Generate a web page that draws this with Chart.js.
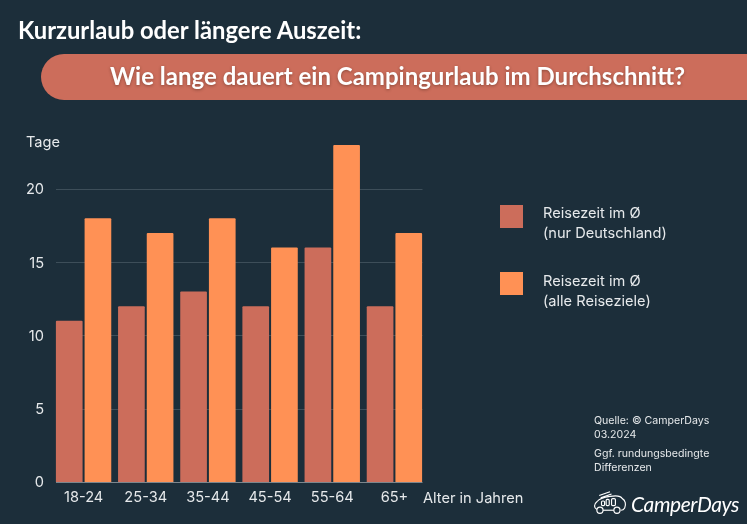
<!DOCTYPE html>
<html lang="de">
<head>
<meta charset="utf-8">
<title>Campingurlaub</title>
<script src="https://cdn.jsdelivr.net/npm/chart.js@4/dist/chart.umd.min.js"></script>
<style>
  html, body { margin: 0; padding: 0; background: #1c2e3a; }
  #page { position: relative; width: 747px; height: 524px; overflow: hidden; background: #1c2e3a; font-family: Inter, sans-serif; color: #e6e9eb; }
  #page canvas { position: absolute; left: 0; top: 0; }
  .txt { position: absolute; white-space: nowrap; }
  #kicker { left: 18px; top: 16px; font: 700 23.8px/28px Lato, sans-serif; color: #fff; }
  #pill { position: absolute; left: 41px; top: 54px; width: 706px; height: 46px; background: #cc6d5b; border-radius: 23px 0 0 23px; }
  #headline { left: 110px; top: 60px; font: 700 24px/32px Lato, sans-serif; color: #fff; text-shadow: 0 1px 3px rgba(60,30,20,.45); }
  .swatch { position: absolute; left: 500px; width: 23px; height: 23px; }
  .leg { left: 543px; font-size: 14.6px; line-height: 20px; }
  .note { left: 594px; font-size: 10.6px; line-height: 13.5px; }
</style>
</head>
<body>
<div id="page">
  <canvas id="chart" width="747" height="524"></canvas>
  <div class="txt" id="kicker">Kurzurlaub oder längere Auszeit:</div>
  <div id="pill"></div>
  <div class="txt" id="headline">Wie lange dauert ein Campingurlaub im Durchschnitt?</div>
  <div class="txt" style="left:26px;top:133px;font-size:14.6px;line-height:18px">Tage</div>
  <div class="txt" style="left:423px;top:489px;font-size:14.6px;line-height:18px">Alter in Jahren</div>
  <div class="swatch" style="top:205px;background:#cc6d5b"></div>
  <div class="txt leg" style="top:203px">Reisezeit im Ø<br>(nur Deutschland)</div>
  <div class="swatch" style="top:272px;background:#ff9155"></div>
  <div class="txt leg" style="top:271px">Reisezeit im Ø<br>(alle Reiseziele)</div>
  <div class="txt note" style="top:414px">Quelle: © CamperDays<br>03.2024</div>
  <div class="txt note" style="top:447px">Ggf. rundungsbedingte<br>Differenzen</div>
  <svg style="position:absolute;left:593px;top:488px" width="34" height="29" viewBox="0 0 44 30" fill="none" stroke="#fff" stroke-width="1.5">
    <path d="M5 24 C1 22 1 17 5 14 C8 10 14 8 22 7 C28 6 36 6 38 10 C42 12 43 18 41 22 C40 24 38 25 36 25"/>
    <path d="M13 25 H27"/>
    <circle cx="9" cy="25" r="4"/>
    <circle cx="31" cy="25" r="4"/>
    <path d="M8 6 L22 1 M10 9 L24 4"/>
    <rect x="11" y="13" width="4" height="6" rx="1.5"/>
    <rect x="17" y="11" width="4" height="8" rx="1.5"/>
    <rect x="24" y="10" width="5" height="9" rx="1.5"/>
  </svg>
  <div class="txt" style="left:631px;top:491px;font:italic 400 21px/26px Lato,sans-serif;color:#fff;letter-spacing:-.4px">CamperDays</div>
</div>
<script>
const categories = ['18-24', '25-34', '35-44', '45-54', '55-64', '65+'];
const domesticDays = [11, 12, 13, 12, 16, 12];
const allDestinationDays = [18, 17, 18, 16, 23, 17];
const yTicks = [0, 5, 10, 15, 20];

// gridlines and baseline stop short of the category band edges, so they are drawn here
const axisLines = {
  id: 'axisLines',
  beforeDatasetsDraw(chart) {
    const { ctx, scales: { y } } = chart;
    const left = chart.chartArea.left + 3.5;
    const right = chart.chartArea.right - 3;
    ctx.save();
    yTicks.forEach(v => {
      const py = Math.round(y.getPixelForValue(v)) + 0.5;
      ctx.strokeStyle = v === 0 ? '#7c868d' : '#3d4e59';
      ctx.lineWidth = 1;
      ctx.beginPath();
      ctx.moveTo(left, py);
      ctx.lineTo(right, py);
      ctx.stroke();
    });
    ctx.restore();
  }
};

new Chart(document.getElementById('chart'), {
  type: 'bar',
  data: {
    labels: categories,
    datasets: [
      { label: 'Reisezeit im Ø (nur Deutschland)', data: domesticDays, backgroundColor: '#cc6d5b', borderRadius: 1 },
      { label: 'Reisezeit im Ø (alle Reiseziele)', data: allDestinationDays, backgroundColor: '#ff9155', borderRadius: 1 }
    ]
  },
  options: {
    responsive: false,
    animation: false,
    layout: { padding: { top: 145, right: 321.5, bottom: 0, left: 0 } },
    datasets: { bar: { categoryPercentage: 0.923, barPercentage: 0.93 } },
    scales: {
      x: {
        afterFit: s => { s.height = 42; },
        grid: { display: false, drawTicks: false },
        border: { display: false },
        ticks: { color: '#e6e9eb', font: { family: 'Inter', size: 14.6 }, padding: 7, maxRotation: 0 }
      },
      y: {
        min: 0,
        max: 23,
        afterFit: s => { s.width = 52.5; },
        afterBuildTicks: s => { s.ticks = yTicks.map(value => ({ value })); },
        grid: { display: false, drawTicks: false },
        border: { display: false },
        ticks: { color: '#e6e9eb', font: { family: 'Inter', size: 14.6 }, padding: 8.5, labelOffset: 1 }
      }
    },
    plugins: { legend: { display: false }, tooltip: { enabled: false } }
  },
  plugins: [axisLines]
});
</script>
</body>
</html>
